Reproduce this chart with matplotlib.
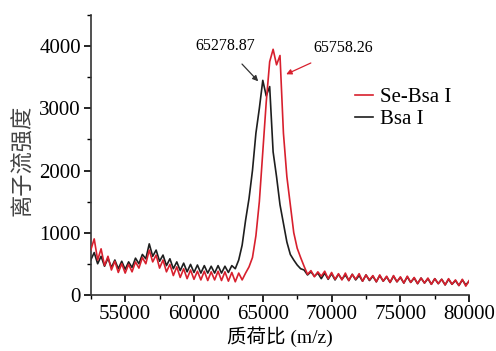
import numpy as np
import matplotlib
matplotlib.use("Agg")
import matplotlib.pyplot as plt
from matplotlib.ticker import MultipleLocator

# m/z grid start and step (one value every 250)
mz_debut = 52500
mz_pas = 250

bsa = [
    560, 680, 500, 620, 460, 590, 440, 560, 420, 540,
    410, 530, 440, 590, 500, 650, 580, 820, 620, 720,
    540, 640, 470, 580, 420, 530, 390, 510, 370, 490,
    360, 480, 350, 470, 350, 460, 350, 470, 350, 460,
    360, 470,
    420, 560, 800, 1200, 1550, 2000, 2600, 3000, 3450, 3200,
    3350, 2300, 1900, 1450, 1150, 850, 650, 560, 480, 420,
    400, 320, 370, 300, 350,
    260, 350, 250, 340, 240, 330, 250, 320, 230, 330,
    240, 310, 220, 320, 230, 300, 210, 310, 220, 290,
    200, 300, 210, 280, 190, 290, 200, 270, 180, 270,
    190, 260, 170, 260, 180, 250, 160, 250, 170, 230,
    150, 240, 160, 220,
]

se_bsa = [
    720, 900, 560, 740, 470, 620, 400, 540, 360, 500,
    350, 490, 370, 530, 430, 600, 500, 720, 530, 640,
    430, 560, 370, 490, 310, 450, 280, 420, 260, 400,
    250, 380, 240, 380, 230, 370, 240, 380, 230, 370,
    220, 360, 210, 350, 240,
    350, 450, 600, 950, 1500, 2300, 3100, 3750, 3950, 3700,
    3850, 2600, 1900, 1450, 1000, 750, 600, 460,
    330, 390, 290, 370,
    300, 380, 260, 360, 250, 340, 240, 350, 230, 330,
    250, 340, 220, 320, 240, 310, 210, 320, 220, 300,
    200, 310, 210, 290, 190, 300, 200, 280, 180, 270,
    190, 270, 170, 260, 180, 250, 160, 260, 170, 240,
    150, 250, 140, 230,
]

pic_bsa = "65278.87"
pic_se = "65758.26"

assert len(bsa) == len(se_bsa) == 111
mz = mz_debut + mz_pas * np.arange(len(bsa))

serif = ["Liberation Serif", "DejaVu Serif"]
# latin in serif, chinese falls back to the CJK family
cjk = ["Liberation Serif", "Noto Sans CJK SC"]
rouge = "#d8202e"

fig = plt.figure(figsize=(4.96, 3.51), dpi=100)
ax = fig.add_axes([0.183, 0.160, 0.763, 0.797])

l_bsa, = ax.plot(mz, bsa, color="#1e1e1e", linewidth=1.2, zorder=2)
l_se, = ax.plot(mz, se_bsa, color=rouge, linewidth=1.2, zorder=3)

ax.set_xlim(52500, 80000)
ax.set_ylim(0, 4500)
ax.xaxis.set_major_locator(MultipleLocator(5000))
ax.xaxis.set_minor_locator(MultipleLocator(2500))
ax.yaxis.set_major_locator(MultipleLocator(1000))
ax.yaxis.set_minor_locator(MultipleLocator(500))
ax.tick_params(which="major", direction="out", length=5, width=1.2, labelsize=15, pad=2)
ax.tick_params(which="minor", direction="out", length=3, width=1.0)
for lab in ax.get_xticklabels() + ax.get_yticklabels():
    lab.set_family(serif)

for s in ["top", "right"]:
    ax.spines[s].set_visible(False)
for s in ["left", "bottom"]:
    ax.spines[s].set_linewidth(1.2)
    ax.spines[s].set_color("#333333")

ax.set_xlabel("质荷比 (m/z)", fontsize=14, family=cjk)
ax.xaxis.set_label_coords(0.5, -0.112)
ax.set_ylabel("离子流强度", fontsize=16, family=cjk, color="#444444")
ax.yaxis.set_label_coords(-0.15, 0.48)

ax.annotate(pic_bsa, xy=(64667, 3435), xytext=(62270, 4000),
            ha="center", va="center", fontsize=11.5, family=serif,
            arrowprops=dict(arrowstyle="-|>", color="#333333", lw=0.9,
                            mutation_scale=8, shrinkA=7, shrinkB=0))
ax.annotate(pic_se, xy=(66701, 3548), xytext=(70843, 3968),
            ha="center", va="center", fontsize=11.5, family=serif,
            arrowprops=dict(arrowstyle="-|>", color=rouge, lw=0.9,
                            mutation_scale=8, shrinkA=7, shrinkB=0))

ax.legend([l_se, l_bsa], ["Se-Bsa I", "Bsa I"], loc="upper left",
          bbox_to_anchor=(0.697, 0.74), frameon=False, borderpad=0,
          borderaxespad=0, handlelength=0.9, handletextpad=0.3,
          labelspacing=0.1, prop={"family": serif, "size": 15})

fig.savefig("out.png", dpi=100)
